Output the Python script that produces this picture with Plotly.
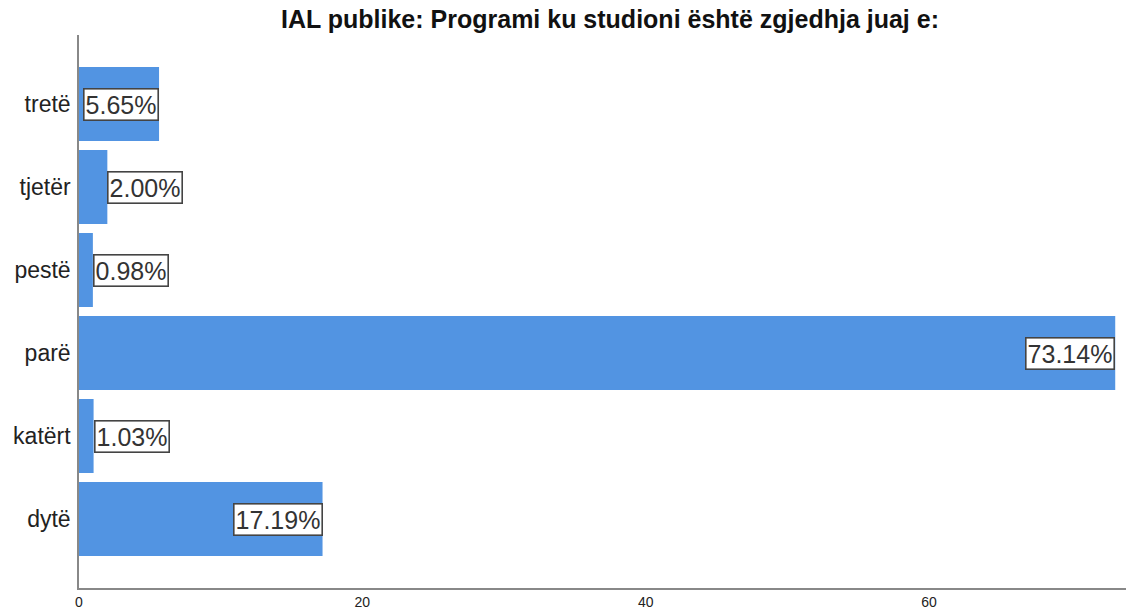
import plotly.graph_objects as go

categories = ["dytë", "katërt", "parë", "pestë", "tjetër", "tretë"]
values = [17.19, 1.03, 73.14, 0.98, 2.00, 5.65]
labels = ["17.19%", "1.03%", "73.14%", "0.98%", "2.00%", "5.65%"]
x_ticks = [0, 20, 40, 60]
title = "IAL publike: Programi ku studioni është zgjedhja juaj e:"

bar_color = "#5294E2"
font_family = "Liberation Sans, Arial, sans-serif"

fig = go.Figure()
fig.add_trace(go.Bar(
    y=categories, x=values, orientation="h",
    marker=dict(color=bar_color, line=dict(width=0)),
    width=0.89, hoverinfo="skip",
))

for c, v, lab in zip(categories, values, labels):
    inside = v > 5
    fig.add_annotation(
        x=v, y=c, xref="x", yref="y", text=lab, showarrow=False,
        xanchor="right" if inside else "left", yanchor="middle",
        font=dict(family=font_family, size=25, color="#333"),
        bgcolor="white", bordercolor="#444", borderwidth=1.6, borderpad=1,
    )

fig.update_layout(
    width=1126, height=611,
    paper_bgcolor="white", plot_bgcolor="white",
    margin=dict(l=79, r=0, t=35, b=23, autoexpand=False),
    showlegend=False,
    font=dict(family=font_family),
    title=dict(text="<b>" + title + "</b>", x=610 / 1126, xanchor="center",
               y=1 - 19 / 611, yanchor="middle", yref="container",
               font=dict(family=font_family, size=25, color="#111")),
    xaxis=dict(range=[0, 73.9], tickvals=x_ticks, ticktext=[str(t) for t in x_ticks],
               showgrid=False, zeroline=False, showline=True, linecolor="#888",
               linewidth=1.5, ticks="", automargin=False,
               tickfont=dict(size=14, color="#222")),
    yaxis=dict(range=[-0.831, 5.832], categoryorder="array", categoryarray=categories,
               showgrid=False, zeroline=False, showline=True, linecolor="#888",
               linewidth=1.5, ticks="", ticklabelstandoff=2, automargin=False,
               tickfont=dict(size=23, color="#222")),
)

fig.write_html("out.html", config={"displayModeBar": False},
               post_script="document.body.style.margin='0';document.body.style.overflow='hidden';")
